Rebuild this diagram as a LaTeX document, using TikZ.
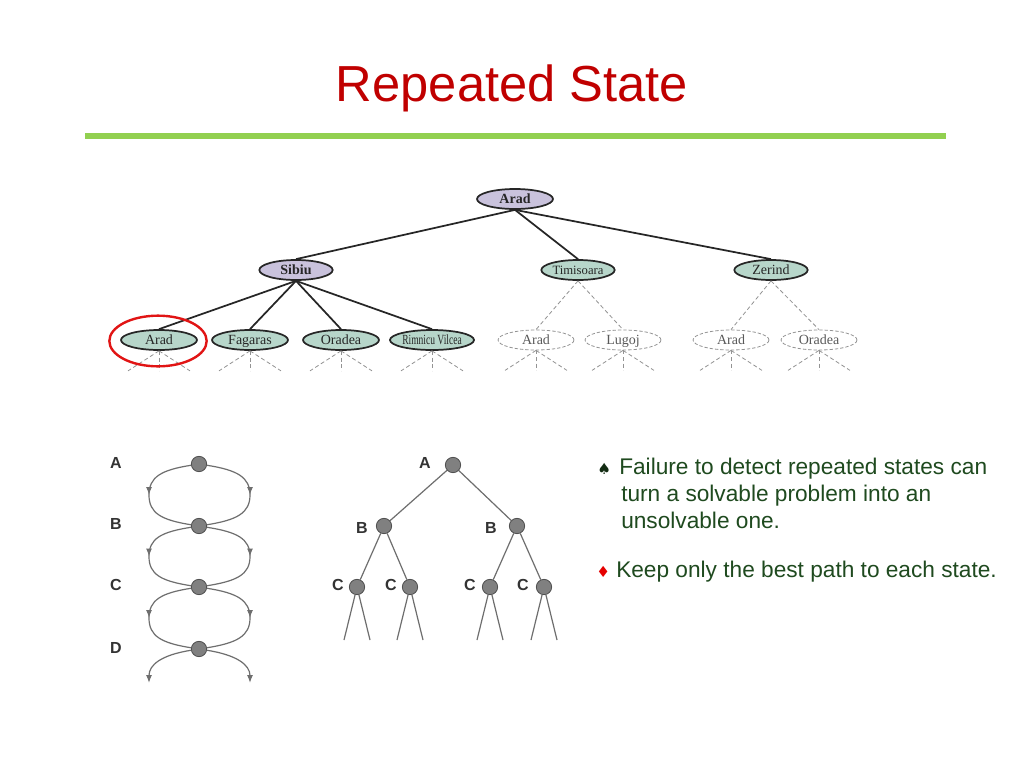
\documentclass[tikz,border=0pt]{standalone}
\usepackage{fontspec}
\setmainfont{Liberation Sans}
\newfontfamily\serifcity{Liberation Serif}
\newfontfamily\dejavu{DejaVu Sans}
\usetikzlibrary{shapes.geometric,arrows.meta,decorations.markings,calc}
\definecolor{titlered}{HTML}{C00000}
\definecolor{barGreen}{HTML}{92D050}
\definecolor{lav}{HTML}{C9C2DC}
\definecolor{sage}{HTML}{B7D6CA}
\definecolor{txtgreen}{HTML}{1F4A1F}
\definecolor{nodegray}{HTML}{808080}
\definecolor{nodeedge}{HTML}{505050}
\definecolor{linegray}{HTML}{6E6E6E}
\tikzset{
  ell/.style={ellipse, minimum width=57pt, minimum height=15pt, inner sep=0pt,
    text height=7pt, text depth=1pt,
    font=\serifcity\fontsize{10.5}{11}\selectfont},
  topn/.style={ell, draw=black!85, line width=1.3pt, fill=lav, text=black!85},
  grn/.style={ell, draw=black!85, line width=1.3pt, fill=sage, text=black!85},
  dsh/.style={ell, draw=gray!85, dashed, line width=0.6pt, dash pattern=on 2.5pt off 1.5pt, text=black!65},
  tedge/.style={line width=1.3pt, draw=black!85},
  dedge/.style={draw=gray!85, line width=0.6pt, dash pattern=on 3pt off 2pt},
  dot/.style={circle, minimum size=11.5pt, inner sep=0pt, fill=nodegray, draw=nodeedge, line width=0.6pt},
  lab/.style={font=\bfseries\fontsize{12}{12}\selectfont, text=black!80},
  gedge/.style={draw=linegray, line width=0.9pt},
  midarrow/.style={postaction={decorate}, decoration={markings, mark=at position 0.5 with {\arrow{Latex[length=6pt,width=4.5pt]}}}},
  bul/.style={anchor=base west, inner sep=0pt, text=txtgreen, font=\fontsize{17}{20}\selectfont},
}
\begin{document}
\begin{tikzpicture}[x=0.75pt,y=-0.75pt]
\useasboundingbox (0,0) rectangle (1024,768);
\fill[white] (0,0) rectangle (1024,768);
% title
\node[anchor=base, inner sep=0pt, text=titlered, font=\fontsize{38}{40}\selectfont] (title) at (512,101) {Repeated State};
\coordinate (barL) at (85,136);
\coordinate (barR) at (946,136);
\draw[barGreen, line width=3.8pt] (barL) -- (barR);

% search tree
\node[topn, font=\serifcity\bfseries\fontsize{10.5}{11}\selectfont] (arad) at (515,199) {Arad};
\node[topn, minimum width=55pt, font=\serifcity\bfseries\fontsize{10.5}{11}\selectfont] (sibiu) at (296,270) {Sibiu};
\node[grn, minimum width=55pt, font=\serifcity\fontsize{9.5}{10}\selectfont] (timi) at (578,270) {Timisoara};
\node[grn, minimum width=55pt] (zerind) at (771,270) {Zerind};
\node[grn] (s1) at (159,340) {Arad};
\node[grn] (s2) at (250,340) {Fagaras};
\node[grn] (s3) at (341,340) {Oradea};
\node[grn] (s4) at (432,340) {\scalebox{0.68}[1]{Rimnicu Vilcea}};
\node[dsh] (t1) at (536,340) {Arad};
\node[dsh] (t2) at (623,340) {Lugoj};
\node[dsh] (z1) at (731,340) {Arad};
\node[dsh] (z2) at (819,340) {Oradea};

\draw[tedge] (arad.south) -- (sibiu.north);
\draw[tedge] (arad.south) -- (timi.north);
\draw[tedge] (arad.south) -- (zerind.north);
\foreach \c in {s1,s2,s3,s4} \draw[tedge] (sibiu.south) -- (\c.north);
\draw[dedge] (timi.south) -- (t1.north);
\draw[dedge] (timi.south) -- (t2.north);
\draw[dedge] (zerind.south) -- (z1.north);
\draw[dedge] (zerind.south) -- (z2.north);
\foreach \n in {s1,s2,s3,s4,t1,t2,z1,z2}{
  \path (\n.south) ++(-31,20) coordinate (\n-l) (\n.south) ++(0,20) coordinate (\n-m) (\n.south) ++(31,20) coordinate (\n-r);
  \draw[dedge] (\n.south) -- (\n-l);
  \draw[dedge] (\n.south) -- (\n-m);
  \draw[dedge] (\n.south) -- (\n-r);
}
% red highlight
\node[draw={rgb,255:red,225;green,20;blue,20}, line width=1.8pt, ellipse, minimum width=73pt, minimum height=38pt, inner sep=0pt] (hl) at (158,341) {};

% left chain diagram
\node[lab] (la) at (116,463) {A};
\node[lab] (lb) at (116,524) {B};
\node[lab] (lc) at (116,585) {C};
\node[lab] (ld) at (116,648) {D};
\node[dot] (a1) at (199,464) {};
\node[dot] (a2) at (199,526) {};
\node[dot] (a3) at (199,587) {};
\node[dot] (a4) at (199,649) {};
\foreach \u/\v in {a1/a2,a2/a3,a3/a4}{
  \draw[gedge, midarrow] (\u) .. controls +(-38,6) and +(0,-18) .. ($(\u)!0.5!(\v)+(-50,0)$) .. controls +(0,18) and +(-38,-6) .. (\v);
  \draw[gedge, midarrow] (\u) .. controls +(38,6) and +(0,-18) .. ($(\u)!0.5!(\v)+(51,0)$) .. controls +(0,18) and +(38,-6) .. (\v);
}
\coordinate (dl) at (149,683);
\coordinate (dr) at (250,683);
\draw[gedge, -{Latex[length=6pt,width=4.5pt]}] (a4) .. controls +(-38,6) and +(0,-18) .. (dl);
\draw[gedge, -{Latex[length=6pt,width=4.5pt]}] (a4) .. controls +(38,6) and +(0,-18) .. (dr);

% middle tree
\node[dot] (ta) at (453,465) {};
\node[dot] (tb1) at (384,526) {};
\node[dot] (tb2) at (517,526) {};
\node[dot] (tc1) at (357,587) {};
\node[dot] (tc2) at (410,587) {};
\node[dot] (tc3) at (490,587) {};
\node[dot] (tc4) at (544,587) {};
\node[lab] (mla) at (425,463) {A};
\node[lab] (mlb1) at (362,528) {B};
\node[lab] (mlb2) at (491,528) {B};
\node[lab] (mlc1) at (338,585) {C};
\node[lab] (mlc2) at (391,585) {C};
\node[lab] (mlc3) at (470,585) {C};
\node[lab] (mlc4) at (523,585) {C};
\draw[gedge] (ta) -- (tb1);
\draw[gedge] (ta) -- (tb2);
\draw[gedge] (tb1) -- (tc1);
\draw[gedge] (tb1) -- (tc2);
\draw[gedge] (tb2) -- (tc3);
\draw[gedge] (tb2) -- (tc4);
\foreach \n in {tc1,tc2,tc3,tc4}{
  \path (\n) ++(-13,53) coordinate (\n-l) (\n) ++(13,53) coordinate (\n-r);
  \draw[gedge] (\n) -- (\n-l);
  \draw[gedge] (\n) -- (\n-r);
}

% bullet text
\node[anchor=base west, inner sep=0pt, text=txtgreen!60!black, font=\dejavu\fontsize{11.5}{12}\selectfont] (sp) at (597,474) {♠};
\node[bul] (l1) at (619,474) {Failure to detect repeated states can};
\node[bul] (l2) at (621,501) {turn a solvable problem into an};
\node[bul] (l3) at (621,528) {unsolvable one.};
\node[anchor=base west, inner sep=0pt, text=red!90!black, font=\dejavu\fontsize{11.5}{12}\selectfont] (dm) at (596,577) {♦};
\node[bul] (l4) at (616,577) {Keep only the best path to each state.};
\end{tikzpicture}
\end{document}
